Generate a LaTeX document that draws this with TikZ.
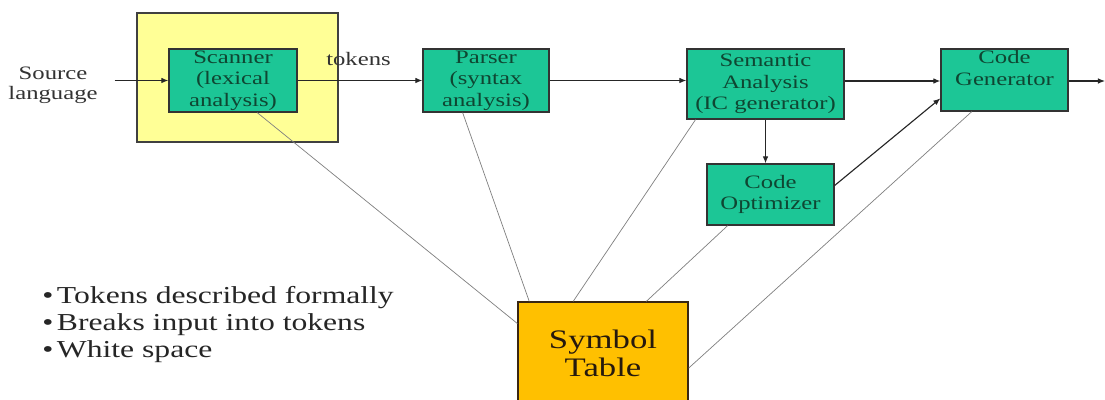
\documentclass[tikz,border=0pt]{standalone}
\usepackage{fontspec}
\setmainfont{Liberation Serif}[FakeStretch=1.3]
\usetikzlibrary{arrows.meta}
\definecolor{phasegreen}{RGB}{28,198,150}
\definecolor{lexyellow}{RGB}{255,255,150}
\definecolor{tablegold}{RGB}{255,192,0}
\definecolor{phasetext}{RGB}{15,70,50}
\tikzstyle{phase}=[draw=black!80,line width=0.9pt,fill=phasegreen,rectangle,align=center,text=phasetext,font=\fontsize{13.5}{15.2}\selectfont,inner sep=0pt]
\tikzstyle{label}=[align=center,text=black!80,font=\fontsize{13.5}{14.5}\selectfont,inner sep=0pt]
\tikzstyle{flow}=[-{Latex[length=5pt,width=4pt]},line width=0.8pt,black!85]
\tikzstyle{lookup}=[gray,line width=0.5pt]

\begin{document}
\begin{tikzpicture}[x=0.025cm,y=-0.025cm]
\clip (0,0) rectangle (1105,400);
\fill[white] (0,0) rectangle (1105,400);

\node[draw=black!75,line width=0.9pt,fill=lexyellow,minimum width=5.025cm,minimum height=3.225cm] (lexbox) at (237.5,77.5) {};
\node[phase,minimum width=3.2cm,minimum height=1.575cm] (scanner) at (233,80.5) {Scanner\\(lexical\\analysis)};
\node[phase,minimum width=3.15cm,minimum height=1.575cm] (parser) at (486,80.5) {Parser\\(syntax\\analysis)};
\node[phase,minimum width=3.925cm,minimum height=1.75cm] (semantic) at (765.5,84) {Semantic\\Analysis\\(IC generator)};
\node[phase,minimum width=3.175cm,minimum height=1.55cm,text depth=0.6cm] (codegen) at (1004.5,80) {Code\\Generator};
\node[phase,minimum width=3.175cm,minimum height=1.525cm] (optimizer) at (770.5,194.5) {Code\\Optimizer};
\node[draw=black!70!brown,line width=0.9pt,fill=tablegold,minimum width=4.25cm,minimum height=2.55cm,align=center,text=black!80!brown,font=\fontsize{19}{20}\selectfont] (symtab) at (603,353) {Symbol\\Table};

\node[label] (source) at (53,85) {Source\\language};
\node[label] (tokens) at (358.5,59) {tokens};
\node[align=left,anchor=west,text=black!85,font=\fontsize{17.3}{19.5}\selectfont,inner sep=0pt] (notes) at (42,324.5) {\textbullet\hspace{0.15em}Tokens described formally\\\textbullet\hspace{0.15em}Breaks input into tokens\\\textbullet\hspace{0.15em}White space};
\coordinate (out) at (1105,81);

\draw[flow,shorten <=15\pgflinewidth] (source.east |- scanner.west) -- (scanner.west);
\draw[flow] (scanner) -- (parser);
\draw[flow] (parser.east) -- (parser.east -| semantic.west);
\draw[flow] (semantic.east |- out) -- (codegen.west |- out);
\draw[flow] (codegen.east |- out) -- (out);
\draw[flow] (semantic.south) -- (semantic.south |- optimizer.north);
\draw[flow] (optimizer.8) -- (codegen.196);

\draw[lookup] (scanner.-53) -- (symtab.161);
\draw[lookup] (parser.234) -- (symtab.145);
\draw[lookup] (semantic.207) -- (symtab.120);
\draw[lookup] (optimizer.216) -- (symtab.50);
\draw[lookup] (codegen.224) -- (symtab.-10);
\end{tikzpicture}
\end{document}
